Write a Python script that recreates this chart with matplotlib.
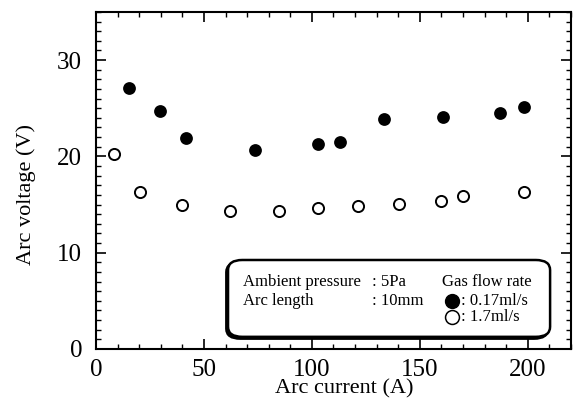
import numpy as np
import matplotlib
matplotlib.use("Agg")
import matplotlib.pyplot as plt
from matplotlib.patches import FancyBboxPatch
from matplotlib.ticker import MultipleLocator

plt.rcParams['font.family'] = ['Liberation Serif', 'DejaVu Serif']

# =============================================================================
# DATA
# =============================================================================

# gas flow rate 0.17 ml/s (filled circles)
current_low = [15.4, 29.5, 41.5, 73.6, 102.6, 113.0, 133.3, 160.5, 187.0, 198.3]
voltage_low = [27.1, 24.7, 21.9, 20.7, 21.3, 21.5, 23.9, 24.1, 24.5, 25.1]

# gas flow rate 1.7 ml/s (open circles)
current_high = [8.3, 20.4, 40.0, 61.9, 84.6, 102.6, 121.4, 140.3, 160.0, 170.2, 198.3]
voltage_high = [20.2, 16.3, 14.9, 14.3, 14.3, 14.6, 14.8, 15.1, 15.4, 15.9, 16.3]

xticks = [0, 50, 100, 150, 200]
yticks = [0, 10, 20, 30]

# =============================================================================
# FIGURE
# =============================================================================

fig = plt.figure(figsize=(5.73, 4.12), dpi=100)
ax = fig.add_axes([0.1675, 0.153, 0.829, 0.818])

ax.plot(current_low, voltage_low, 'o', ms=8, mfc='black', mec='black', mew=1.2, ls='none')
ax.plot(current_high, voltage_high, 'o', ms=8, mfc='white', mec='black', mew=1.4, ls='none')

ax.set_xlim(0, 220)
ax.set_ylim(0, 35)
ax.set_xticks(xticks)
ax.set_yticks(yticks)
ax.xaxis.set_minor_locator(MultipleLocator(10))
ax.yaxis.set_minor_locator(MultipleLocator(1))
ax.tick_params(which='both', direction='in', top=True, right=True, labelsize=18)
ax.tick_params(axis='x', pad=7)
ax.tick_params(axis='y', pad=10)
ax.tick_params(which='major', length=7, width=1.2)
ax.tick_params(which='minor', length=3.5, width=1.0)
for sp in ax.spines.values():
    sp.set_linewidth(1.5)

ax.set_xlabel("Arc current (A)", fontsize=16, va='center')
ax.set_ylabel("Arc voltage (V)", fontsize=16, va='center')
ax.xaxis.set_label_coords(0.522, -0.119)
ax.yaxis.set_label_coords(-0.147, 0.457)

# legend box (rounded with a small shadow)
shadow = FancyBboxPatch((0.274, 0.030), 0.678, 0.228, boxstyle="round,pad=0,rounding_size=0.03",
                        transform=ax.transAxes, fc='black', ec='black', lw=1.5, zorder=4)
box = FancyBboxPatch((0.278, 0.036), 0.678, 0.228, boxstyle="round,pad=0,rounding_size=0.03",
                     transform=ax.transAxes, fc='white', ec='black', lw=1.8, zorder=5)
ax.add_patch(shadow)
ax.add_patch(box)

fs = 12
ax.text(0.309, 0.199, "Ambient pressure", transform=ax.transAxes, fontsize=fs, va='center', zorder=6)
ax.text(0.309, 0.142, "Arc length", transform=ax.transAxes, fontsize=fs, va='center', zorder=6)
ax.text(0.581, 0.199, ": 5Pa", transform=ax.transAxes, fontsize=fs, va='center', zorder=6)
ax.text(0.581, 0.142, ": 10mm", transform=ax.transAxes, fontsize=fs, va='center', zorder=6)
ax.text(0.728, 0.199, "Gas flow rate", transform=ax.transAxes, fontsize=fs, va='center', zorder=6)
ax.plot([0.749], [0.142], 'o', ms=10, mfc='black', mec='black', transform=ax.transAxes, zorder=6)
ax.plot([0.749], [0.095], 'o', ms=10, mfc='white', mec='black', mew=1.1, transform=ax.transAxes, zorder=6)
ax.text(0.769, 0.142, ": 0.17ml/s", transform=ax.transAxes, fontsize=fs, va='center', zorder=6)
ax.text(0.769, 0.095, ": 1.7ml/s", transform=ax.transAxes, fontsize=fs, va='center', zorder=6)

fig.savefig("out.png", dpi=100)
